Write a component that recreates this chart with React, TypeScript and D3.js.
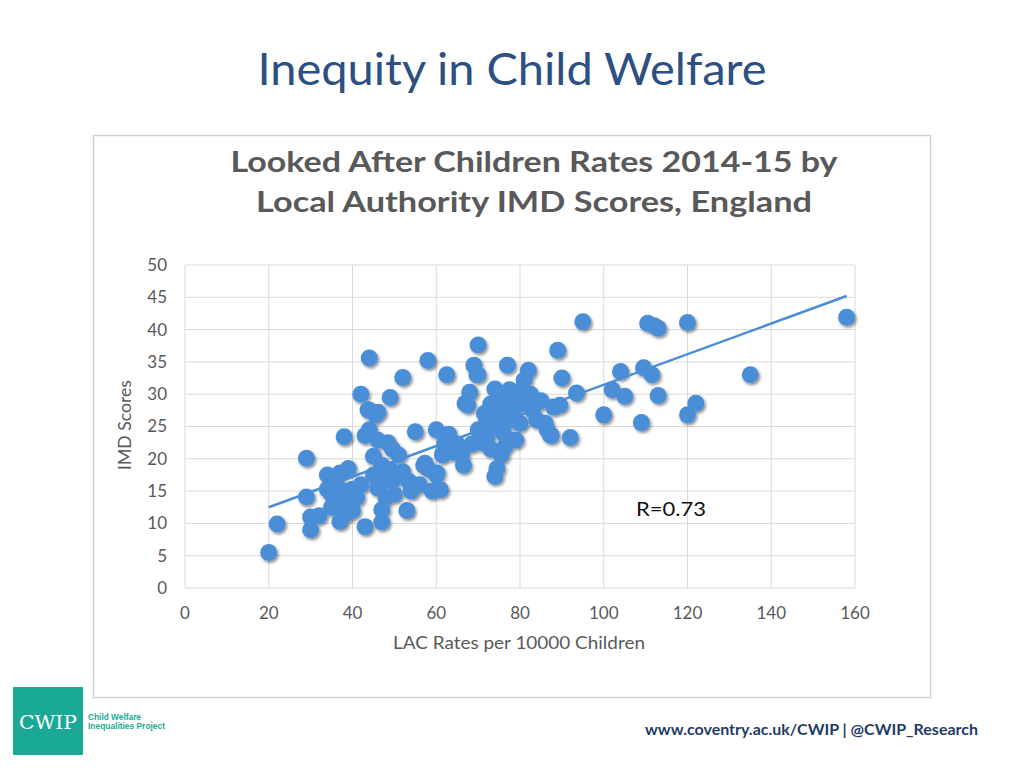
import React from "react";
import * as d3 from "d3";

const xTicks = [0, 20, 40, 60, 80, 100, 120, 140, 160];
const yTicks = [0, 5, 10, 15, 20, 25, 30, 35, 40, 45, 50];

// LAC rate per 10000 children (x) and IMD score (y) per local authority
const lacRates = [
  20, 22, 29, 29, 30, 30, 32, 34, 34, 35, 35, 36, 37, 37, 37, 38, 38, 38.5, 39, 39,
  40, 40, 41, 42, 42, 43, 43, 44, 44, 44, 45, 45, 45.5, 46, 46, 47, 47, 47, 48, 48,
  48.5, 49, 49, 49.5, 50, 50, 51, 52, 52, 53, 53.5, 54, 55, 56, 57, 58, 58, 59, 60, 60,
  61, 61.5, 62, 62.5, 63, 64, 65, 66, 66.5, 67.5, 68, 69, 70, 70, 70, 71, 71.5, 72, 72.5, 73,
  73, 74, 74, 74.5, 75, 75, 75.5, 76, 76.5, 77, 77, 77.5, 78, 78.5, 79, 80, 80, 81, 82, 82.5,
  83, 84, 85, 86, 86.5, 87.5, 88, 89, 90, 89.5, 92, 93.5, 95, 100, 102, 104, 105, 109,
  109.5, 110.5, 111.5, 112, 113, 113, 120, 120, 122, 135, 158,
  57.3, 60.2, 61.6, 69.7, 66.9, 80.4, 87.2, 43.7, 46.1,
  68.5, 72, 76, 78.5, 63.5,
];
const imdScores = [
  5.5, 9.9, 20.1, 14.1, 9, 11, 11.2, 17.5, 15.3, 12.5, 14.5, 16, 10.3, 17.8, 13.5, 23.4, 15, 11.5, 18.5, 13,
  15.3, 12, 14, 30, 16, 9.5, 23.6, 35.6, 27.5, 24.5, 20.4, 17.5, 26.8, 22.9, 15.5, 19, 10.2, 12.1, 16.7, 14,
  22.5, 29.5, 18.3, 21.5, 14.5, 17, 20.6, 32.6, 18, 12, 16.5, 15, 24.2, 16, 19, 35.2, 18.5, 15, 24.5, 17.5,
  15.2, 20.6, 22.5, 33, 23.8, 21, 22.3, 20.6, 19, 28.3, 30.3, 34.5, 37.6, 33, 24.5, 22.5, 27, 26, 24.5, 28.5,
  21.5, 17.3, 30.8, 18.5, 25.2, 27, 20.6, 29, 22, 34.5, 27.5, 30.7, 26, 29, 22.9, 28.5, 25.5, 32.2, 33.7, 30,
  27.5, 26, 29, 25.5, 24.5, 23.6, 28, 36.8, 32.5, 28.3, 23.3, 30.2, 41.2, 26.8, 30.7, 33.5, 29.7, 25.6,
  34.1, 41, 33, 40.6, 40.2, 29.8, 41.1, 26.8, 28.6, 33, 41.9,
  19.3, 17.8, 20.9, 33, 28.6, 30.7, 23.7, 27.6, 27.2,
  22.3, 23.2, 24, 27.8, 22.2,
];

// Linear trendline end points
const trendX = [20, 158];
const trendY = [12.5, 45.2];

const chartTitle = ["Looked After Children Rates 2014-15 by", "Local Authority IMD Scores, England"];

export default function App() {
  const W = 1024;
  const H = 768;
  const plot = { left: 185, right: 855, top: 265, bottom: 588 };
  const x = d3.scaleLinear().domain([0, 160]).range([plot.left, plot.right]);
  const y = d3.scaleLinear().domain([0, 50]).range([plot.bottom, plot.top]);
  const grid = "#d9d9d9";
  const tickColor = "#595959";
  const font = "Lato, 'Open Sans', sans-serif";
  const points = lacRates.map((v, i) => [v, imdScores[i]] as [number, number]);
  const line = d3.line<number>().x((v) => x(v)).y((_, i) => y(trendY[i]));

  return (
    <div style={{ position: "fixed", left: 0, top: 0, width: W, height: H, background: "#fff" }}>
      <svg width={W} height={H} viewBox={`0 0 ${W} ${H}`} style={{ display: "block" }}>
        <defs>
          <filter id="sh" x="-50%" y="-50%" width="200%" height="200%">
            <feDropShadow dx="1.5" dy="2" stdDeviation="1.6" floodColor="#000" floodOpacity="0.45" />
          </filter>
        </defs>
        <rect width={W} height={H} fill="#fff" />
        <text x={512} y={85} textAnchor="middle" fontFamily={font} fontSize={44} fill="#2d4f82" textLength={509} lengthAdjust="spacingAndGlyphs">
          Inequity in Child Welfare
        </text>
        <rect x={93.5} y={135.5} width={837} height={562} fill="#fff" stroke="#d0d0d0" strokeWidth={1.5} />
        <text x={534} y={172} textAnchor="middle" fontFamily={font} fontWeight="bold" fontSize={28} fill={tickColor} textLength={607} lengthAdjust="spacingAndGlyphs">
          {chartTitle[0]}
        </text>
        <text x={534} y={212} textAnchor="middle" fontFamily={font} fontWeight="bold" fontSize={28} fill={tickColor} textLength={556} lengthAdjust="spacingAndGlyphs">
          {chartTitle[1]}
        </text>
        {yTicks.map((t) => (
          <g key={"y" + t}>
            <line x1={plot.left} x2={plot.right} y1={y(t)} y2={y(t)} stroke={grid} strokeWidth={1} />
            <text x={167} y={y(t)} dy="0.35em" textAnchor="end" fontFamily={font} fontSize={17} fill={tickColor}>
              {t}
            </text>
          </g>
        ))}
        {xTicks.map((t) => (
          <g key={"x" + t}>
            <line x1={x(t)} x2={x(t)} y1={plot.top} y2={plot.bottom} stroke={grid} strokeWidth={1} />
            <text x={x(t)} y={619} textAnchor="middle" fontFamily={font} fontSize={17} fill={tickColor}>
              {t}
            </text>
          </g>
        ))}
        <text x={519} y={649} textAnchor="middle" fontFamily={font} fontSize={17} fill={tickColor} textLength={252} lengthAdjust="spacingAndGlyphs">
          LAC Rates per 10000 Children
        </text>
        <text transform="translate(131,425) rotate(-90)" textAnchor="middle" fontFamily={font} fontSize={17} fill={tickColor} textLength={90} lengthAdjust="spacingAndGlyphs">
          IMD Scores
        </text>
        <g filter="url(#sh)">
          {points.map((p, i) => (
            <circle key={i} cx={x(p[0])} cy={y(p[1])} r={8.5} fill="#4a8ed6" />
          ))}
        </g>
        <path d={line(trendX) || ""} fill="none" stroke="#4a8ed6" strokeWidth={2.5} />
        <text x={636} y={516} fontFamily={font} fontSize={20} fill="#111" textLength={70} lengthAdjust="spacingAndGlyphs">
          R=0.73
        </text>
        <rect x={13} y={687} width={70} height={68} fill="#1aa995" />
        <text x={48} y={729} textAnchor="middle" fontFamily="'DejaVu Serif', 'Liberation Serif', serif" fontSize={19} fill="#fff" textLength={58} lengthAdjust="spacingAndGlyphs">
          CWIP
        </text>
        <text x={88} y={720} fontFamily="'Liberation Sans', Arial, sans-serif" fontWeight="bold" fontSize={8.5} fill="#1aa995" textLength={53} lengthAdjust="spacingAndGlyphs">
          Child Welfare
        </text>
        <text x={88} y={729} fontFamily="'Liberation Sans', Arial, sans-serif" fontWeight="bold" fontSize={8.5} fill="#1aa995" textLength={77} lengthAdjust="spacingAndGlyphs">
          Inequalities Project
        </text>
        <text x={645} y={735} fontFamily={font} fontWeight="bold" fontSize={15} fill="#1f3c66" textLength={333} lengthAdjust="spacingAndGlyphs">
          www.coventry.ac.uk/CWIP | @CWIP_Research
        </text>
      </svg>
    </div>
  );
}
